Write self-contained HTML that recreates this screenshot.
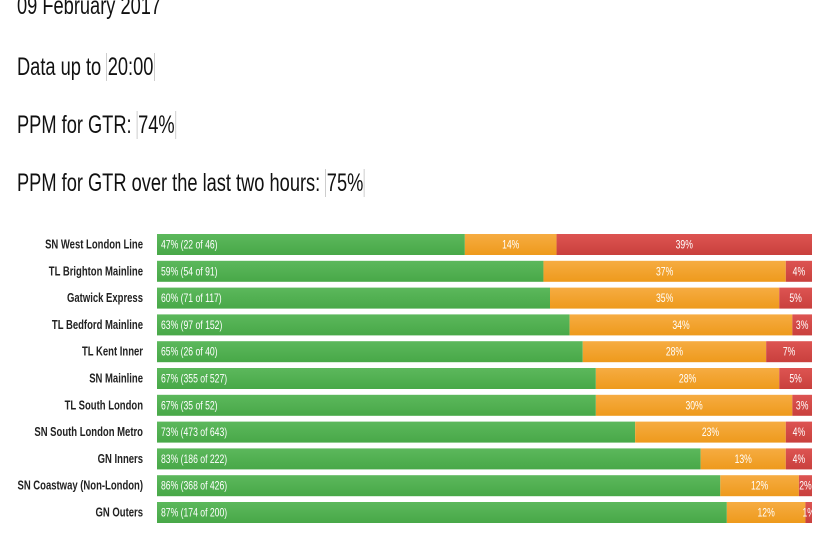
<!DOCTYPE html>
<html><head><meta charset="utf-8"><style>
body{margin:0;width:830px;height:540px;background:#fff;overflow:hidden;font-family:"Liberation Sans Narrow","Liberation Sans",sans-serif;position:relative}
.h{position:absolute;left:17px;font-size:25px;color:#111;white-space:nowrap;transform-origin:0 0;transform:scaleX(0.73)}
.box{border-left:1px solid #bbb;border-right:1px solid #bbb;padding:0 1px}
</style></head><body>
<div class="h" style="top:-8px">09 February 2017</div>
<div class="h" style="top:53px">Data up to <span class="box">20:00</span></div>
<div class="h" style="top:111px">PPM for GTR: <span class="box">74%</span></div>
<div class="h" style="top:169px">PPM for GTR over the last two hours: <span class="box">75%</span></div>
<svg id="chart" width="830" height="540" style="position:absolute;left:0;top:0">
<defs>
<linearGradient id="gG" x1="0" y1="0" x2="0" y2="1"><stop offset="0" stop-color="#5cb85c"/><stop offset="1" stop-color="#48a848"/></linearGradient>
<linearGradient id="gO" x1="0" y1="0" x2="0" y2="1"><stop offset="0" stop-color="#f6ac42"/><stop offset="1" stop-color="#ee9a1c"/></linearGradient>
<linearGradient id="gR" x1="0" y1="0" x2="0" y2="1"><stop offset="0" stop-color="#dd5452"/><stop offset="1" stop-color="#c9403d"/></linearGradient>
</defs>
</svg>
<script>
const routes=["SN West London Line","TL Brighton Mainline","Gatwick Express","TL Bedford Mainline","TL Kent Inner","SN Mainline","TL South London","SN South London Metro","GN Inners","SN Coastway (Non-London)","GN Outers"];
const onTime=[47,59,60,63,65,67,67,73,83,86,87];
const onTimeCount=["22 of 46","54 of 91","71 of 117","97 of 152","26 of 40","355 of 527","35 of 52","473 of 643","186 of 222","368 of 426","174 of 200"];
const late=[14,37,35,34,28,28,30,23,13,12,12];
const veryLate=[39,4,5,3,7,5,3,4,4,2,1];
const svg=document.getElementById('chart');
const NS='http://www.w3.org/2000/svg';
const x0=157,x1=812,y0=234,pitch=26.8,bh=21;
const xs=v=>x0+(x1-x0)*v/100;
function mk(t,a){const e=document.createElementNS(NS,t);for(const k in a)e.setAttribute(k,a[k]);svg.appendChild(e);return e;}
routes.forEach((r,i)=>{
  const y=y0+i*pitch;
  const l=mk('text',{x:143,y:y+bh/2+4,'text-anchor':'end','font-size':12.5,fill:'#222','font-weight':'bold',transform:`translate(143 0) scale(0.76 1) translate(-143 0)`});
  
  
  l.textContent=r;
  const tot=onTime[i]+late[i]+veryLate[i];
  const segs=[[onTime[i],'url(#gG)','on-time'],[late[i],'url(#gO)','late'],[veryLate[i],'url(#gR)','very-late']];
  let acc=0;
  segs.forEach((s,j)=>{
    const a=xs(acc/tot*100),b=xs((acc+s[0])/tot*100);acc+=s[0];
    const rc=mk('rect',{x:a,y:y,width:Math.max(0,b-a),height:bh,fill:s[1]});
    
    
    const txt=j===0?`${s[0]}% (${onTimeCount[i]})`:`${s[0]}%`;
    const tx=j===0?a+4:(a+b)/2;
    const t=mk('text',{x:tx,y:y+bh/2+4,'text-anchor':j===0?'start':'middle','font-size':11.5,fill:'#fff',transform:`translate(${tx} 0) scale(0.75 1) translate(${-tx} 0)`});
    
    
    t.textContent=txt;
  });
});
</script>
</body></html>
